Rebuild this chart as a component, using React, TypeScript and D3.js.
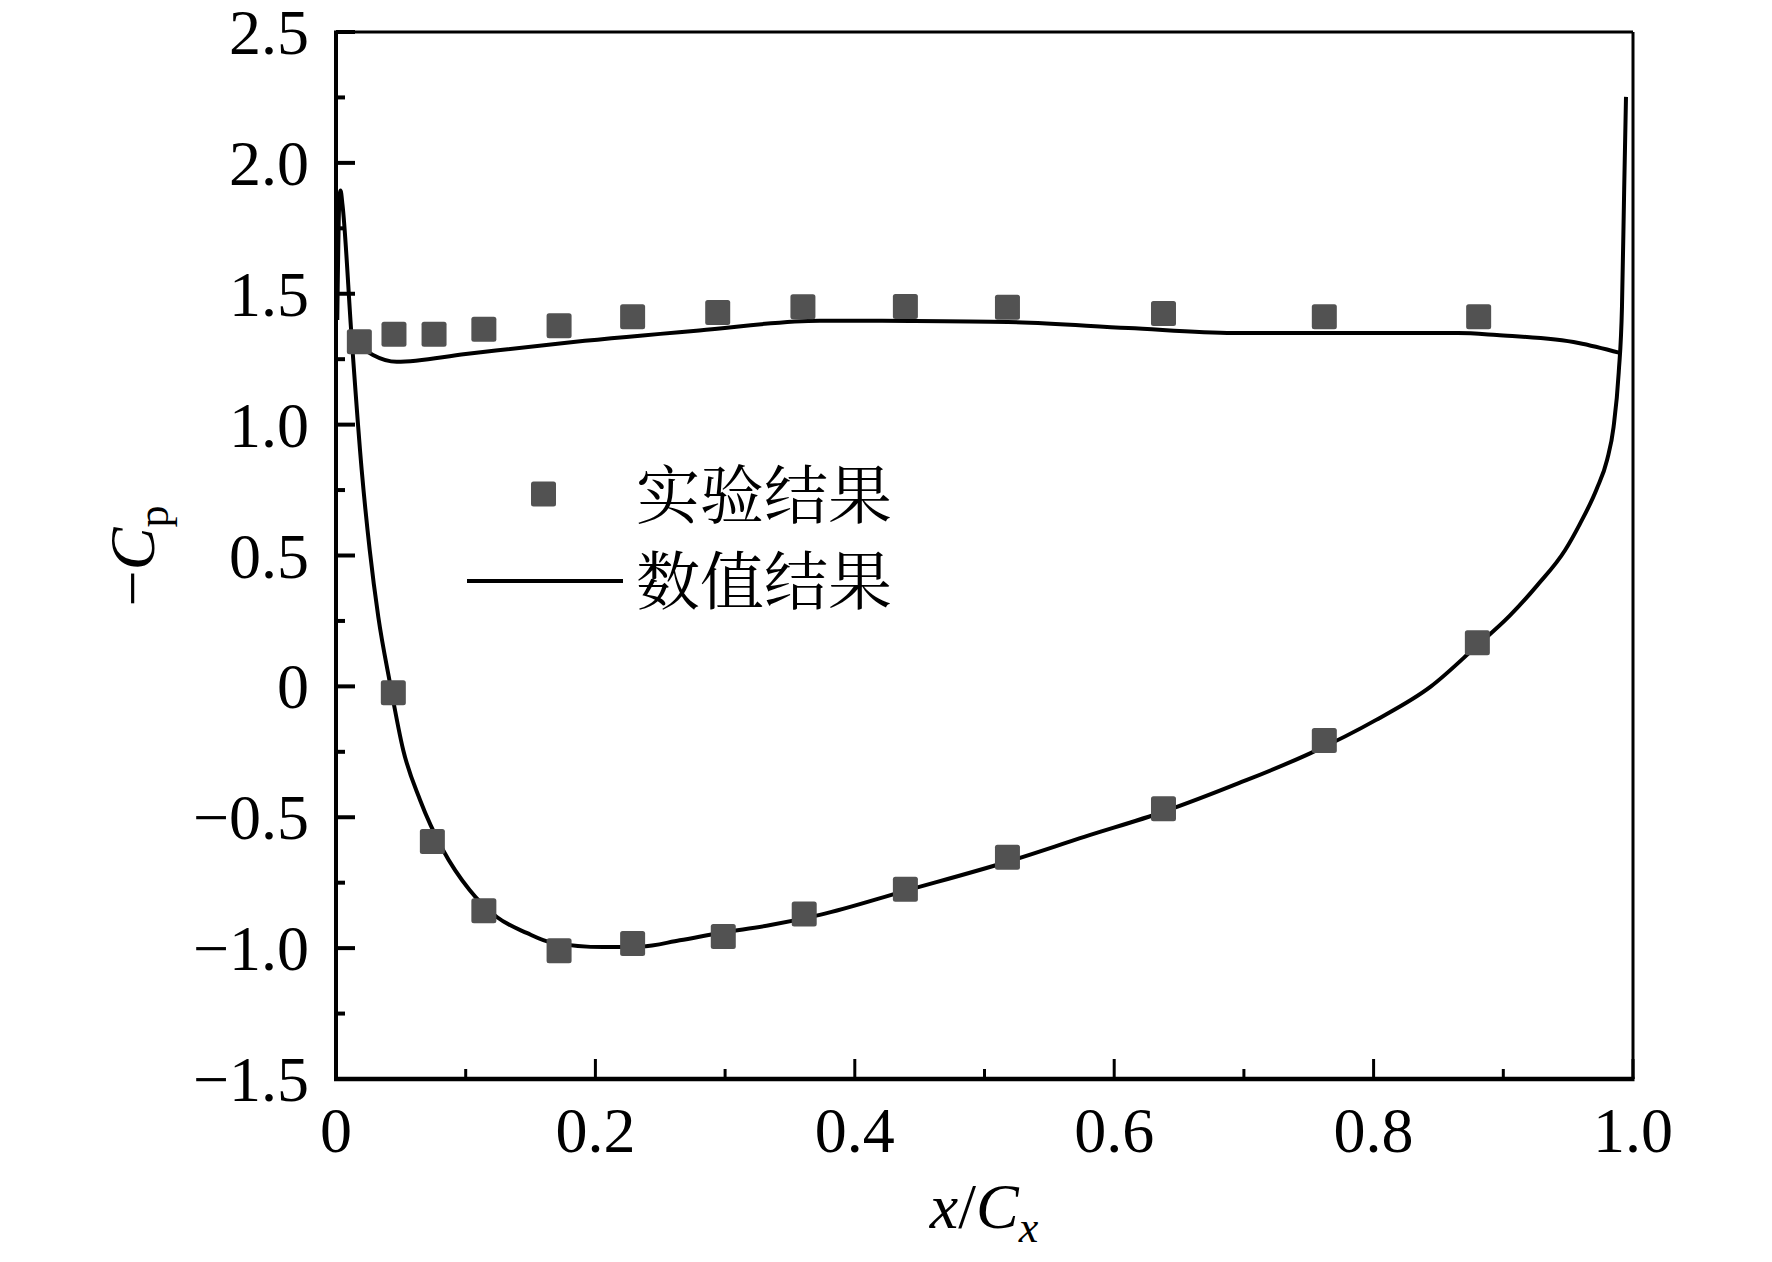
import React from 'react';
import * as d3 from 'd3';

// experimental points (squares)
const expUpperX = [0.018, 0.0447, 0.0756, 0.114, 0.172, 0.2287, 0.2943, 0.36, 0.439, 0.5177, 0.638, 0.762, 0.881];
const expUpperY = [1.317, 1.345, 1.345, 1.364, 1.378, 1.412, 1.428, 1.45, 1.451, 1.448, 1.425, 1.412, 1.412];
const expLowerX = [0.0442, 0.0743, 0.114, 0.172, 0.2287, 0.2986, 0.361, 0.439, 0.5177, 0.638, 0.762, 0.88];
const expLowerY = [-0.024, -0.593, -0.857, -1.01, -0.982, -0.956, -0.87, -0.775, -0.653, -0.468, -0.207, 0.167];

// numerical result, upper branch
const numUpperX = [0.0105, 0.0285, 0.0468, 0.1, 0.183, 0.28, 0.373, 0.4426, 0.518, 0.611, 0.692, 0.865, 0.895, 0.958, 0.99];
const numUpperY = [1.335, 1.266, 1.24, 1.27, 1.316, 1.36, 1.397, 1.396, 1.392, 1.369, 1.35, 1.35, 1.342, 1.312, 1.274];

// numerical result, lower branch incl. leading / trailing edge spikes
const numLowerX = [0.001, 0.0025, 0.0035, 0.005, 0.012, 0.0198, 0.026, 0.0326, 0.0416, 0.0518, 0.0648, 0.0825, 0.103, 0.124, 0.147, 0.167, 0.206, 0.235, 0.265, 0.296, 0.335, 0.373, 0.439, 0.5177, 0.5775, 0.638, 0.696, 0.751, 0.802, 0.844, 0.879, 0.905, 0.926, 0.9476, 0.959, 0.972, 0.98, 0.985, 0.989, 0.9915, 0.9932, 0.9946];
const numLowerY = [1.4, 1.85, 1.894, 1.84, 1.336, 0.827, 0.521, 0.266, 0.013, -0.243, -0.434, -0.625, -0.778, -0.881, -0.942, -0.98, -0.996, -0.994, -0.97, -0.942, -0.912, -0.873, -0.781, -0.67, -0.574, -0.479, -0.37, -0.256, -0.128, -0.001, 0.152, 0.27, 0.385, 0.52, 0.62, 0.754, 0.865, 0.99, 1.2, 1.45, 1.9, 2.252];

const xTicks = [0, 0.2, 0.4, 0.6, 0.8, 1.0];
const xMinor = [0.1, 0.3, 0.5, 0.7, 0.9];
const yTicks = [2.5, 2.0, 1.5, 1.0, 0.5, 0, -0.5, -1.0, -1.5];
const yMinor = [2.25, 1.75, 1.25, 0.75, 0.25, -0.25, -0.75, -1.25];
const legendLabels = ['实验结果', '数值结果'];

const W = 1772;
const H = 1262;
const serif = '"Liberation Serif", "Times New Roman", serif';
const cjk = '"Noto Serif CJK SC", "Noto Sans CJK SC", serif';
const markColor = '#525252';

const App: React.FC = () => {
  const x = d3.scaleLinear().domain([0, 1]).range([336, 1633]);
  const y = d3.scaleLinear().domain([-1.5, 2.5]).range([1079, 32]);

  const fmt = (d: number) => (d === 0 ? '0' : d3.format('.1f')(d));

  const line = d3.line<[number, number]>()
    .x(d => x(d[0]))
    .y(d => y(d[1]))
    .curve(d3.curveMonotoneX);

  const upper = numUpperX.map((v, i) => [v, numUpperY[i]] as [number, number]);
  const lower = numLowerX.map((v, i) => [v, numLowerY[i]] as [number, number]);
  const pts = [
    ...expUpperX.map((v, i) => [v, expUpperY[i]]),
    ...expLowerX.map((v, i) => [v, expLowerY[i]]),
  ];
  const sq = 25;

  const [x0, x1] = x.range();
  const [yb, yt] = y.range();

  return (
    <svg width={W} height={H} style={{ position: 'absolute', left: 0, top: 0, background: '#fff' }}>
      {/* data */}
      <path d={line(lower) || ''} fill="none" stroke="#000" strokeWidth={4} strokeLinejoin="round" />
      <path d={line(upper) || ''} fill="none" stroke="#000" strokeWidth={4} strokeLinejoin="round" />
      {pts.map((p, i) => (
        <rect key={i} x={x(p[0]) - sq / 2} y={y(p[1]) - sq / 2} width={sq} height={sq} rx={2.5} fill={markColor} />
      ))}

      {/* frame */}
      <line x1={x0} x2={x1} y1={yt} y2={yt} stroke="#000" strokeWidth={3} />
      <line x1={x1} x2={x1} y1={yt} y2={yb} stroke="#000" strokeWidth={3} />
      <line x1={x0} x2={x0} y1={yt - 1.5} y2={yb + 2} stroke="#000" strokeWidth={4} />
      <line x1={x0 - 2} x2={x1 + 1.5} y1={yb} y2={yb} stroke="#000" strokeWidth={4.5} />

      {/* y ticks */}
      {yTicks.map(d => (
        <g key={'y' + d}>
          <line x1={x0} x2={x0 + 19} y1={y(d)} y2={y(d)} stroke="#000" strokeWidth={4} />
          <text x={309} y={y(d) + 22} textAnchor="end" fontFamily={serif} fontSize={64}>{fmt(d)}</text>
        </g>
      ))}
      {yMinor.map(d => (
        <line key={'ym' + d} x1={x0} x2={x0 + 9} y1={y(d)} y2={y(d)} stroke="#000" strokeWidth={4} />
      ))}

      {/* x ticks */}
      {xTicks.map(d => (
        <g key={'x' + d}>
          <line x1={x(d)} x2={x(d)} y1={yb} y2={yb - 20} stroke="#000" strokeWidth={3} />
          <text x={x(d)} y={1152} textAnchor="middle" fontFamily={serif} fontSize={64}>{fmt(d)}</text>
        </g>
      ))}
      {xMinor.map(d => (
        <line key={'xm' + d} x1={x(d)} x2={x(d)} y1={yb} y2={yb - 10} stroke="#000" strokeWidth={3} />
      ))}

      {/* axis titles */}
      <text x={984} y={1228} textAnchor="middle" fontFamily={serif} fontSize={64}>
        <tspan fontStyle="italic">x</tspan>
        <tspan>/</tspan>
        <tspan fontStyle="italic">C</tspan>
        <tspan fontStyle="italic" fontSize={44} dy={14}>x</tspan>
      </text>
      <text transform="translate(154,556) rotate(-90)" textAnchor="middle" fontFamily={serif} fontSize={64}>
        <tspan>−</tspan>
        <tspan fontStyle="italic">C</tspan>
        <tspan fontSize={44} dy={14}>p</tspan>
      </text>

      {/* legend */}
      <rect x={543.5 - sq / 2} y={494 - sq / 2} width={sq} height={sq} rx={2.5} fill={markColor} />
      <text x={636} y={490} dominantBaseline="central" fontFamily={cjk} fontSize={64}>{legendLabels[0]}</text>
      <line x1={467} x2={623} y1={581} y2={581} stroke="#000" strokeWidth={4} />
      <text x={636} y={576} dominantBaseline="central" fontFamily={cjk} fontSize={64}>{legendLabels[1]}</text>
    </svg>
  );
};

export default App;
